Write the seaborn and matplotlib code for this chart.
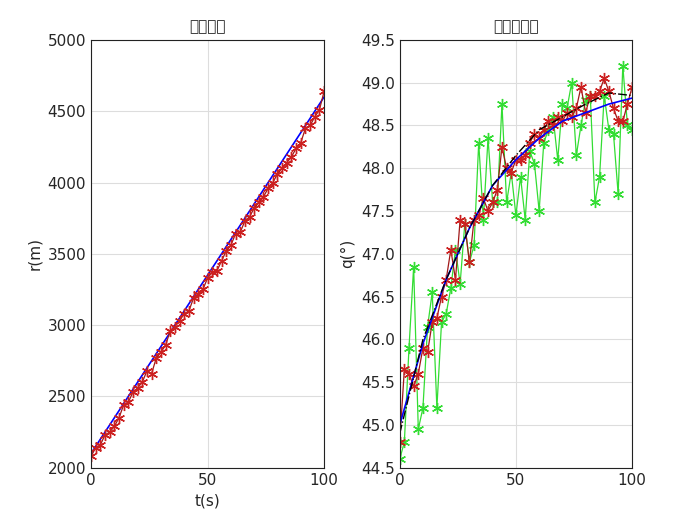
import numpy as np
import seaborn as sns
import matplotlib.pyplot as plt
from matplotlib import font_manager

t_meas = list(range(0, 101, 2))
t_true = list(range(0, 101, 10))

# distance
r_true = [2100, 2350, 2600, 2850, 3100, 3350, 3600, 3850, 4100, 4350, 4600]
r_est = [2080, 2140, 2160, 2230, 2250, 2290, 2350, 2440, 2460, 2530, 2560,
         2600, 2680, 2660, 2770, 2810, 2860, 2960, 2990, 3030, 3080,
         3100, 3190, 3220, 3250, 3330, 3370, 3380, 3450, 3520, 3560,
         3640, 3650, 3730, 3760, 3820, 3860, 3900, 3960, 4000, 4060,
         4100, 4140, 4180, 4240, 4280, 4380, 4400, 4460, 4510, 4640]

# bearing
q_true = [45.0, 45.95, 46.7, 47.3, 47.8, 48.1, 48.35, 48.55, 48.65, 48.75, 48.82]
q_filt = [44.9, 46.0, 46.7, 47.3, 47.8, 48.15, 48.45, 48.6, 48.75, 48.88, 48.85]
q_meas = [44.6, 44.8, 45.9, 46.85, 44.95, 45.2, 46.15, 46.55, 45.2, 46.2, 46.3,
          46.6, 47.05, 46.65, 47.35, 46.9, 47.1, 48.3, 47.4, 48.35, 47.6,
          47.6, 48.75, 47.6, 47.95, 47.45, 47.9, 47.4, 48.2, 48.05, 47.5,
          48.3, 48.45, 48.6, 48.1, 48.75, 48.7, 49.0, 48.15, 48.5, 48.8,
          48.85, 47.6, 47.9, 48.85, 48.45, 48.4, 47.7, 49.2, 48.5, 48.45]
q_est = [44.8, 45.65, 45.6, 45.45, 45.6, 45.9, 45.85, 46.2, 46.25, 46.5, 46.7,
         47.05, 46.7, 47.4, 47.35, 46.9, 47.4, 47.45, 47.65, 47.5, 47.6,
         47.75, 48.25, 48.0, 47.95, 48.1, 48.1, 48.15, 48.3, 48.4, 48.35,
         48.45, 48.55, 48.5, 48.6, 48.55, 48.65, 48.6, 48.7, 48.95, 48.65,
         48.85, 48.85, 48.9, 49.05, 48.9, 48.7, 48.55, 48.55, 48.75, 48.95]

sns.set_style('white')

# find a CJK font file directly
cjk = None
for f in font_manager.findSystemFonts():
    if 'CJK' in f or 'cjk' in f.lower():
        try:
            font_manager.fontManager.addfont(f)
        except Exception:
            pass
        if cjk is None or 'SC' in f or 'Regular' in f:
            cjk = f
cjk_names = []
if cjk:
    cjk_names.append(font_manager.FontProperties(fname=cjk).get_name())
plt.rcParams['font.family'] = 'sans-serif'
plt.rcParams['font.sans-serif'] = ['DejaVu Sans'] + cjk_names + ['Noto Sans CJK SC']
plt.rcParams['axes.unicode_minus'] = False

fig = plt.figure(figsize=(7, 5.25), dpi=100)
ax1 = fig.add_axes([0.13, 0.109, 0.333, 0.815])
ax2 = fig.add_axes([0.571, 0.109, 0.332, 0.815])

star = dict(marker=(6, 2, 0), markersize=8, markeredgewidth=1)

sns.lineplot(x=t_true, y=r_true, ax=ax1, color='blue', lw=1.2)
sns.lineplot(x=t_meas, y=r_est, ax=ax1, color='#a01818', lw=0.9,
             markeredgecolor='#cc2020', **star)
ax1.set_xlim(0, 100)
ax1.set_ylim(2000, 5000)
ax1.set_title('舰船距离', fontsize=11)
ax1.set_xlabel('t(s)', fontsize=11)
ax1.set_ylabel('r(m)', fontsize=11)

sns.lineplot(x=t_meas, y=q_meas, ax=ax2, color='#33dd33', lw=0.9,
             markeredgecolor='#33dd33', **star)
sns.lineplot(x=t_meas, y=q_est, ax=ax2, color='#a01818', lw=0.9,
             markeredgecolor='#cc2020', **star)
sns.lineplot(x=t_true, y=q_true, ax=ax2, color='blue', lw=1.2)
sns.lineplot(x=t_true, y=q_filt, ax=ax2, color='black', lw=1.0, linestyle='-.')
ax2.set_xlim(0, 100)
ax2.set_ylim(44.5, 49.5)
ax2.set_yticks(np.arange(44.5, 49.51, 0.5))
ax2.set_title('舰船方位角', fontsize=11)
ax2.set_ylabel('q(°)', fontsize=11)

for ax in (ax1, ax2):
    ax.set_xticks([0, 50, 100])
    ax.grid(True, color='#dddddd', lw=0.8)
    ax.tick_params(labelsize=11, direction='in', length=3)
    for s in ax.spines.values():
        s.set_color('#222222')
        s.set_linewidth(0.8)

plt.savefig('out.png')
